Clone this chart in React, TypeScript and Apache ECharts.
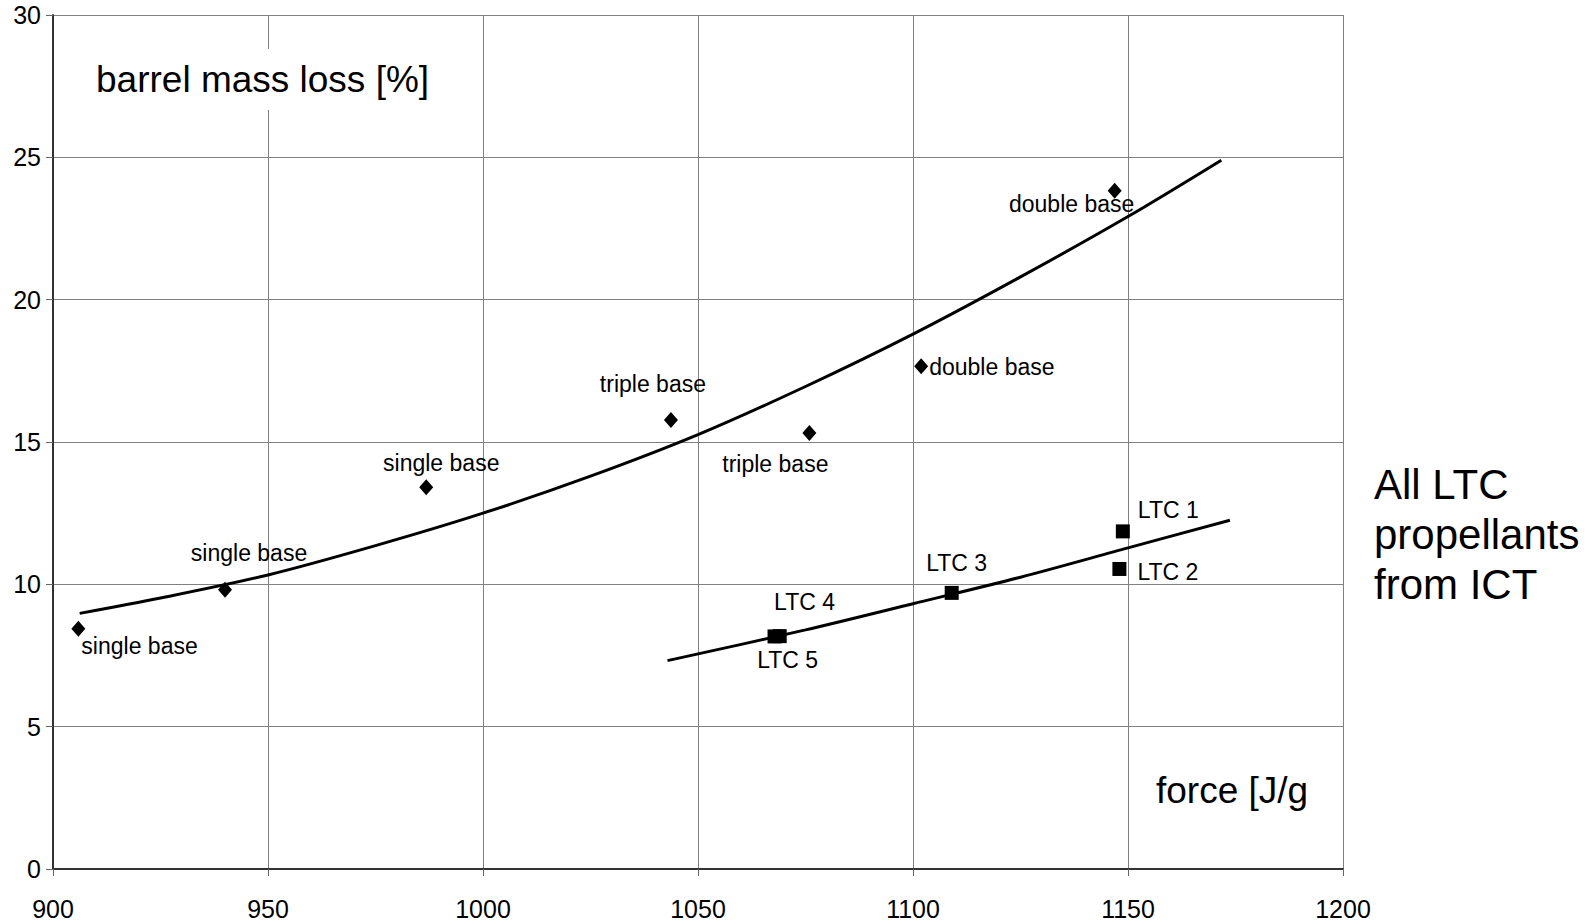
import React, { useEffect, useRef } from "react";
import * as echarts from "echarts";

// ---- data ----
const propForce = [905.9, 940.0, 986.8, 1043.7, 1075.9, 1101.9, 1146.9];
const propLoss = [8.44, 9.81, 13.41, 15.77, 15.32, 17.66, 23.83];
const propNames = ["single base", "single base", "single base", "triple base", "triple base", "double base", "double base"];

const ltcForce = [1148.8, 1148.0, 1109.0, 1067.8, 1069.0];
const ltcLoss = [11.86, 10.54, 9.70, 8.17, 8.18];
const ltcNames = ["LTC 1", "LTC 2", "LTC 3", "LTC 4", "LTC 5"];

// trend lines
const trendAForce = [906.2, 925, 950, 975, 1000, 1025, 1050, 1075, 1100, 1125, 1150, 1171.7];
const trendALoss = [8.98, 9.52, 10.33, 11.36, 12.5, 13.8, 15.26, 16.95, 18.79, 20.8, 22.92, 24.9];
const trendBForce = [1042.9, 1075, 1100, 1125, 1150, 1173.7];
const trendBLoss = [7.32, 8.4, 9.32, 10.25, 11.28, 12.25];

const xTicks = { min: 900, max: 1200, step: 50 };
const yTicks = { min: 0, max: 30, step: 5 };

// label placement (pixel offsets from the marker centre)
const propLabelPlace: [number, number, string][] = [
  [3, 17, "left"],
  [24, -37, "center"],
  [15, -24, "center"],
  [-18, -36, "center"],
  [-34, 31, "center"],
  [8, 1, "left"],
  [-43, 13, "center"],
];
const ltcLabelPlace: [number, number, string][] = [
  [15, -21, "left"],
  [18, 3, "left"],
  [5, -30, "center"],
  [30, -34, "center"],
  [8, 24, "center"],
];

const FONT = "'Liberation Sans', Arial, Helvetica, sans-serif";

export default function App() {
  const ref = useRef<HTMLDivElement>(null);
  useEffect(() => {
    if (!ref.current) return;
    const chart = echarts.init(ref.current, null, { renderer: "svg" });
    const mkLabel = (name: string, p: [number, number, string]) => ({
      show: true,
      position: "inside",
      formatter: name,
      offset: [p[0], p[1]],
      align: p[2],
      verticalAlign: "middle",
      color: "#000",
      fontSize: 23,
      fontFamily: FONT,
    });
    const propData = propForce.map((x, i) => ({
      value: [x, propLoss[i]],
      label: mkLabel(propNames[i], propLabelPlace[i]),
    }));
    const ltcData = ltcForce.map((x, i) => ({
      value: [x, ltcLoss[i]],
      label: mkLabel(ltcNames[i], ltcLabelPlace[i]),
    }));
    chart.setOption({
      animation: false,
      backgroundColor: "#fff",
      grid: { left: 53, top: 15, width: 1290, height: 854, containLabel: false },
      xAxis: {
        type: "value",
        min: xTicks.min,
        max: xTicks.max,
        interval: xTicks.step,
        axisLine: { show: true, onZero: false, lineStyle: { color: "#333", width: 2 } },
        axisTick: { show: true, length: 7, lineStyle: { color: "#666", width: 1 } },
        axisLabel: { color: "#000", fontSize: 25, fontFamily: FONT, margin: 27, formatter: (v: number) => String(v) },
        splitLine: { show: true, lineStyle: { color: "#808080", width: 1 } },
      },
      yAxis: {
        type: "value",
        min: yTicks.min,
        max: yTicks.max,
        interval: yTicks.step,
        axisLine: { show: true, onZero: false, lineStyle: { color: "#333", width: 2 } },
        axisTick: { show: true, length: 7, lineStyle: { color: "#666", width: 1 } },
        axisLabel: { color: "#000", fontSize: 25, fontFamily: FONT, margin: 12, formatter: (v: number) => String(v) },
        splitLine: { show: true, lineStyle: { color: "#808080", width: 1 } },
      },
      series: [
        {
          type: "line",
          data: trendAForce.map((x, i) => [x, trendALoss[i]]),
          smooth: 0.3,
          symbol: "none",
          lineStyle: { color: "#000", width: 3 },
          z: 3,
          silent: true,
        },
        {
          type: "line",
          data: trendBForce.map((x, i) => [x, trendBLoss[i]]),
          smooth: 0.3,
          symbol: "none",
          lineStyle: { color: "#000", width: 3 },
          z: 3,
          silent: true,
        },
        {
          type: "scatter",
          data: propData,
          symbol: "diamond",
          symbolSize: [14, 16],
          itemStyle: { color: "#000", opacity: 1 },
          z: 4,
        },
        {
          type: "scatter",
          data: ltcData,
          symbol: "rect",
          symbolSize: 14,
          itemStyle: { color: "#000", opacity: 1 },
          z: 4,
        },
      ],
      graphic: [
        {
          type: "text",
          left: 90,
          top: 49,
          z: 10,
          style: {
            text: "barrel mass loss [%]",
            fill: "#000",
            fontSize: 37,
            fontFamily: FONT,
            backgroundColor: "#fff",
            padding: [12, 6, 12, 6],
          },
        },
        {
          type: "text",
          left: 1156,
          top: 772,
          z: 10,
          style: {
            text: "force [J/g",
            fill: "#000",
            fontSize: 37,
            fontFamily: FONT,
          },
        },
        {
          type: "text",
          left: 1374,
          top: 459,
          z: 10,
          style: {
            text: "All LTC\npropellants\nfrom ICT",
            fill: "#000",
            fontSize: 42,
            lineHeight: 50,
            fontFamily: FONT,
          },
        },
      ],
    });
    return () => chart.dispose();
  }, []);
  return (
    <div
      ref={ref}
      style={{ position: "absolute", left: 0, top: 0, width: 1593, height: 924 }}
    />
  );
}
